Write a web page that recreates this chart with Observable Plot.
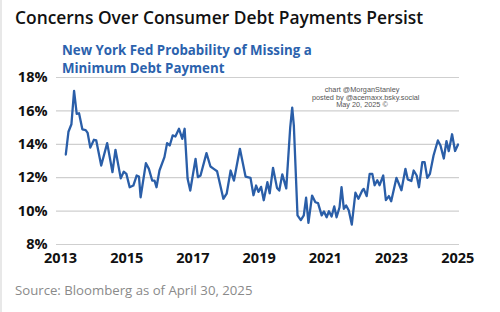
<!DOCTYPE html>
<html><head><meta charset="utf-8">
<script src="https://cdn.jsdelivr.net/npm/d3@7"></script>
<script src="https://cdn.jsdelivr.net/npm/@observablehq/plot@0.6"></script>
<style>
html,body{margin:0;padding:0;background:#fff;}
#wrap{position:relative;width:500px;height:312px;overflow:hidden;background:#fff;}
#edge{position:absolute;left:0;top:0;width:2px;height:312px;background:#e8e8e8;}
#chart{position:absolute;left:0;top:0;}
.t{position:absolute;white-space:nowrap;}
#title{left:15px;top:7px;font:600 17.4px/1.2 "Open Sans",sans-serif;color:#111;}
#sub{left:62px;top:41px;font:700 13.3px/18px "Open Sans",sans-serif;color:#2b62ad;}
#wm{left:312px;top:86px;width:100px;text-align:center;font:400 7.3px/7.5px "Liberation Sans",Arial,sans-serif;color:#555;}
#src{left:15px;top:283px;font:400 13.2px/1.2 "Open Sans",sans-serif;color:#8a8a8a;}
</style></head><body>
<div id="wrap">
<div id="chart"></div>
<div id="edge"></div>
<div class="t" id="title">Concerns Over Consumer Debt Payments Persist</div>
<div class="t" id="sub">New York Fed Probability of Missing a<br>Minimum Debt Payment</div>
<div class="t" id="wm">chart @MorganStanley<br>posted by @acemaxx.bsky.social<br>May 20, 2025 ©</div>
<div class="t" id="src">Source: Bloomberg as of April 30, 2025</div>
</div>
<script>
// decimal year of each vertex
const years = [2013.16,2013.24,2013.33,2013.41,2013.49,2013.56,2013.66,2013.76,2013.82,2013.90,
2014.01,2014.08,2014.23,2014.41,2014.57,2014.66,2014.82,2014.91,2014.99,
2015.09,2015.20,2015.30,2015.37,2015.42,2015.58,2015.67,2015.77,2015.84,2015.90,2015.99,
2016.14,2016.22,2016.30,2016.39,2016.47,2016.58,2016.68,2016.75,2016.84,2016.92,
2017.08,2017.15,2017.23,2017.41,2017.53,2017.63,2017.73,2017.92,
2018.02,2018.14,2018.24,2018.42,2018.59,2018.74,2018.83,2018.91,2018.98,
2019.06,2019.14,2019.25,2019.32,2019.42,2019.54,2019.61,2019.70,2019.82,2019.94,
2020.00,2020.05,2020.16,2020.26,2020.35,2020.42,2020.49,2020.60,2020.70,2020.78,2020.89,2020.96,
2021.04,2021.11,2021.19,2021.27,2021.34,2021.43,2021.49,2021.56,2021.63,2021.71,2021.80,2021.91,
2022.00,2022.12,2022.16,2022.25,2022.34,2022.42,2022.49,2022.57,2022.64,2022.75,2022.83,2022.92,2022.99,
2023.15,2023.30,2023.42,2023.49,2023.60,2023.67,2023.76,2023.83,2023.93,
2024.00,2024.08,2024.16,2024.27,2024.40,2024.48,2024.58,2024.66,2024.73,2024.83,2024.92,2025.01];
// probability of missing a minimum debt payment, %
const values = [13.39,14.75,15.2,17.2,15.82,15.86,14.9,14.85,14.68,13.8,
14.27,14.23,12.73,14.07,12.33,13.67,11.96,12.36,12.23,
11.43,11.53,12.13,12.07,10.83,12.87,12.53,11.83,11.83,11.43,12.43,
13.23,14.07,13.93,14.53,14.47,14.93,14.33,14.93,11.93,11.23,
13.13,12.03,12.13,13.47,12.67,12.53,12.39,10.74,
11.04,12.43,11.83,13.73,12.07,11.99,10.95,11.53,11.15,
11.45,10.65,11.73,11.07,12.59,11.39,11.23,12.2,11.36,15.02,
16.19,15.1,9.74,9.46,9.74,10.8,9.3,10.93,10.53,10.48,9.74,9.98,
9.63,9.99,9.68,10.28,9.63,10.23,11.43,10.14,10.34,10.04,9.19,
11.1,10.74,11.25,11.33,10.9,12.23,12.23,11.55,11.85,11.55,12.13,10.66,10.9,10.59,
11.99,11.25,12.53,11.9,11.8,12.43,12.13,11.43,12.93,
12.93,11.99,12.23,13.33,14.23,13.93,13.15,14.19,13.59,14.6,13.6,13.99];
const yTicks = [8,10,12,14,16,18];
const xTicks = [2013,2015,2017,2019,2021,2023,2025];

const data = years.map((t,i)=>({t, v: values[i]}));

const chart = Plot.plot({
  width: 500,
  height: 312,
  marginLeft: 56,
  marginRight: 41,
  marginTop: 77,
  marginBottom: 68,
  style: {fontFamily: "'Open Sans', sans-serif", background: "transparent", overflow: "visible"},
  x: {domain: [2012.879, 2025.054], label: null},
  y: {domain: [8, 18], label: null},
  marks: [
    Plot.ruleY(yTicks, {stroke: "#cfcfcf", strokeWidth: 1.2}),
    Plot.axisY(yTicks, {tickSize: 0, tickPadding: 9, tickFormat: d => d + "%", fontSize: 14.5, fontWeight: 700, fill: "#111", label: null}),
    Plot.axisX(xTicks, {tickSize: 0, tickPadding: 8, tickFormat: d => String(d), fontSize: 14.5, fontWeight: 700, fill: "#111", label: null}),
    Plot.line(data, {x: "t", y: "v", stroke: "#2a5ea8", strokeWidth: 2.3, strokeLinejoin: "round"})
  ]
});
document.getElementById("chart").appendChild(chart);
</script>
</body></html>
